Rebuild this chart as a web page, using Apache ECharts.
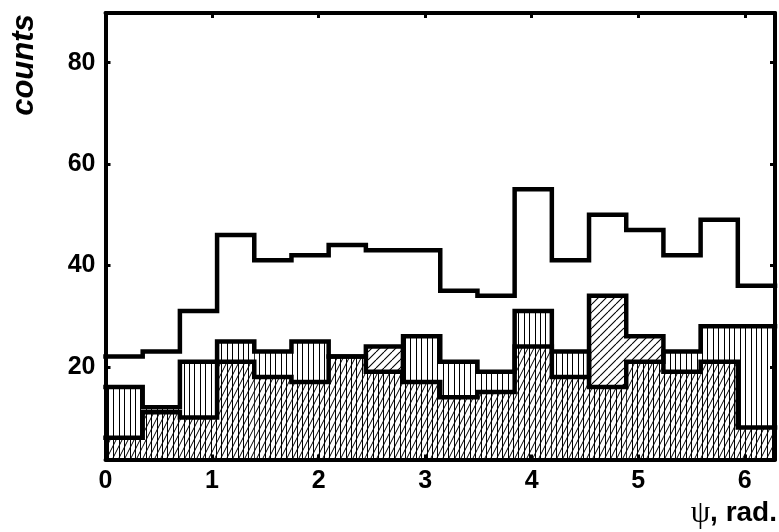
<!DOCTYPE html>
<html>
<head>
<meta charset="utf-8">
<script src="https://cdn.jsdelivr.net/npm/echarts@6/dist/echarts.min.js"></script>
<style>
  html, body { margin: 0; padding: 0; background: #fff; }
  #chart { width: 779px; height: 532px; }
</style>
</head>
<body>
<div id="chart"></div>
<script>
// 18 bins of 20 degrees over 0..2pi
const binCount = 18;
const xMax = 2 * Math.PI;
// vertically hatched histogram
const vertCounts = [16, 12, 21, 25, 23, 25, 22, 19, 26, 21, 19, 31, 23, 16, 21, 23, 28, 28];
// diagonally hatched histogram
const diagCounts = [6, 11, 10, 21, 18, 17, 22, 24, 17, 14, 15, 24, 18, 34, 26, 19, 21, 8];
// open histogram on top
const totalCounts = [22, 23, 31, 46, 41, 42, 44, 43, 43, 35, 34, 55, 41, 50, 47, 42, 49, 36];
const xTicks = [0, 1, 2, 3, 4, 5, 6];
const yTicks = [20, 40, 60, 80];
const yMin = 1.7, yMax = 89.8;

const FONT = '"Liberation Sans", Arial, sans-serif';

// hatch patterns
function makePattern(w, h, draw) {
  const c = document.createElement('canvas');
  c.width = w; c.height = h;
  const ctx = c.getContext('2d');
  ctx.strokeStyle = '#000';
  ctx.fillStyle = '#000';
  draw(ctx, w, h);
  return { image: c, repeat: 'repeat' };
}
const vertPattern = makePattern(27, 4, (ctx, w, h) => {
  [0, 5, 11, 16, 22].forEach(x => ctx.fillRect(x, 0, 1, h));
});
const coarsePattern = makePattern(8, 8, (ctx, w, h) => {
  ctx.lineWidth = 1.1;
  for (let k = -1; k <= 1; k++) {
    ctx.beginPath();
    ctx.moveTo(k * w, h);
    ctx.lineTo(k * w + w, 0);
    ctx.stroke();
  }
});
const steepPattern = makePattern(6, 12, (ctx, w, h) => {
  ctx.lineWidth = 1;
  for (let k = -1; k <= 1; k++) {
    ctx.beginPath();
    ctx.moveTo(k * w, h);
    ctx.lineTo(k * w + w, 0);
    ctx.stroke();
  }
});

const binWidth = xMax / binCount;
const binData = vertCounts.map((a, i) => [i * binWidth, (i + 1) * binWidth, a, diagCounts[i]]);

function stepPoints(values) {
  const pts = [];
  values.forEach((v, i) => {
    pts.push([i * binWidth, v]);
    pts.push([(i + 1) * binWidth, v]);
  });
  return pts;
}

function renderBin(params, api) {
  const x0 = api.value(0), x1 = api.value(1);
  const a = api.value(2), b = api.value(3);
  const lo = Math.min(a, b), hi = Math.max(a, b);
  const pBase = api.coord([x0, yMin]);
  const pEnd = api.coord([x1, yMin]);
  const pLo = api.coord([x0, lo]);
  const pHi = api.coord([x0, hi]);
  const w = pEnd[0] - pBase[0];
  const rect = (top, bottom, fill) => ({
    type: 'rect',
    shape: { x: pBase[0], y: top, width: w, height: bottom - top },
    style: { fill: fill, stroke: null }
  });
  return {
    type: 'group',
    children: [
      rect(pLo[1], pBase[1], vertPattern),
      rect(pLo[1], pBase[1], steepPattern),
      rect(pHi[1], pLo[1], a > b ? vertPattern : coarsePattern)
    ]
  };
}

const lineStyle = { color: '#000', width: 4.5, join: 'miter', cap: 'square' };

const axisCommon = {
  type: 'value',
  axisLine: { show: true, onZero: false, lineStyle: { color: '#000', width: 4 } },
  axisTick: { show: true, inside: true, length: 5, lineStyle: { color: '#000', width: 3 } },
  splitLine: { show: false }
};

const chart = echarts.init(document.getElementById('chart'), null, { renderer: 'canvas' });

chart.setOption({
  backgroundColor: '#fff',
  animation: false,
  grid: { left: 105.5, right: 4, top: 13, bottom: 72.5, containLabel: false },
  xAxis: [
    Object.assign({}, axisCommon, {
      min: 0, max: xMax, interval: 1, position: 'bottom',
      axisLabel: {
        show: true, margin: 9, color: '#000', fontSize: 25, fontWeight: 'bold',
        fontFamily: FONT, showMaxLabel: false,
        formatter: v => (xTicks.indexOf(v) >= 0 ? String(v) : '')
      }
    }),
    Object.assign({}, axisCommon, {
      min: 0, max: xMax, interval: 1, position: 'top',
      axisLabel: { show: false }
    })
  ],
  yAxis: [
    Object.assign({}, axisCommon, {
      min: yMin, max: yMax, position: 'left',
      axisTick: Object.assign({}, axisCommon.axisTick, { customValues: yTicks }),
      axisLabel: {
        show: true, margin: 10, color: '#000', fontSize: 25, fontWeight: 'bold',
        fontFamily: FONT, customValues: yTicks
      }
    }),
    Object.assign({}, axisCommon, {
      min: yMin, max: yMax, position: 'right',
      axisTick: Object.assign({}, axisCommon.axisTick, { customValues: yTicks }),
      axisLabel: { show: false }
    })
  ],
  series: [
    {
      type: 'custom',
      renderItem: renderBin,
      data: binData,
      clip: true,
      z: 1,
      silent: true
    },
    {
      type: 'line', data: stepPoints(vertCounts), symbol: 'none',
      lineStyle: lineStyle, z: 3, silent: true
    },
    {
      type: 'line', data: stepPoints(diagCounts), symbol: 'none',
      lineStyle: lineStyle, z: 3, silent: true
    },
    {
      type: 'line', data: stepPoints(totalCounts), symbol: 'none',
      lineStyle: lineStyle, z: 3, silent: true
    }
  ],
  graphic: [
    {
      type: 'text',
      x: 24, y: 65,
      rotation: Math.PI / 2,
      style: {
        text: 'counts',
        font: 'italic bold 31px ' + FONT,
        fill: '#000',
        align: 'center',
        verticalAlign: 'middle'
      }
    },
    {
      type: 'text',
      x: 777, y: 529,
      style: {
        text: '{psi|ψ}{b|, rad.}',
        fill: '#000',
        align: 'right',
        verticalAlign: 'bottom',
        rich: {
          psi: { fontFamily: '"Liberation Serif", "DejaVu Serif", serif', fontSize: 31, fontWeight: 'normal', fill: '#000' },
          b: { fontFamily: FONT, fontSize: 28, fontWeight: 'bold', fill: '#000' }
        }
      }
    }
  ]
});
</script>
</body>
</html>
